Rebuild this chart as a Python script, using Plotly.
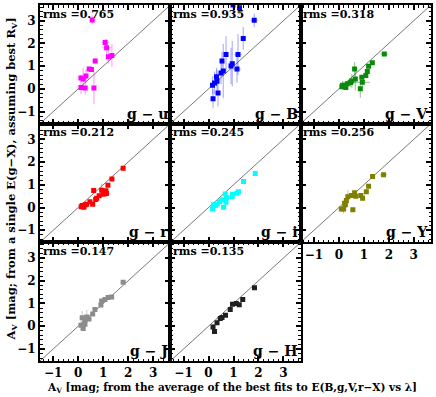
import plotly.graph_objects as go
from plotly.subplots import make_subplots

# ---------------- data ----------------
panel_names = ["g − u", "g − B", "g − V", "g − r", "g − i", "g − Y", "g − J", "g − H"]
rms_values = ["0.765", "0.935", "0.318", "0.212", "0.245", "0.256", "0.147", "0.135"]
colors = ["#ff00ff", "#0000ff", "#0a8a0a", "#ff0000", "#00ffff", "#808000", "#8c8c8c", "#202020"]
err_colors = ["rgba(255,0,255,0.35)", "rgba(0,0,255,0.3)", "rgba(10,138,10,0.4)", "rgba(255,0,0,0.3)",
              "rgba(0,255,255,0.35)", "rgba(128,128,0,0.35)", "rgba(140,140,140,0.4)", "rgba(32,32,32,0.45)"]

gu_x = [0.56, 1.08, 1.14, 1.21, 1.35, 0.68, 0.44, 0.53, 0.11, 0.20, 0.31, 0.11, 0.28, 0.63]
gu_y = [3.03, 2.04, 1.81, 1.41, 1.47, 1.23, 0.87, 0.85, 0.48, 0.44, 0.57, 0.06, 0.04, 0.04]
gu_ex = [0.05, 0.15, 0.2, 0.1, 0.15, 0.05, 0.08, 0.08, 0.05, 0.05, 0.05, 0.05, 0.05, 0.05]
gu_ey = [0.2, 0.15, 0.4, 0.3, 0.5, 0.1, 0.1, 0.1, 0.15, 0.5, 0.3, 0.3, 0.3, 0.7]

gB_x = [0.98, 1.24, 1.83, 1.39, 1.18, 0.70, 0.54, 0.95, 0.90, 1.14, 0.59, 0.50, 0.32, 0.34, 0.24, 0.16, 0.38, 0.18]
gB_y = [3.69, 3.57, 3.02, 2.22, 1.51, 1.51, 1.23, 1.11, 1.01, 0.87, 0.79, 0.70, 0.53, 0.34, 0.26, 0.16, -0.18, -0.43]
gB_ex = [0.05, 0.08, 0.15, 0.1, 0.15, 0.05, 0.05, 0.1, 0.05, 0.15, 0.05, 0.05, 0.05, 0.05, 0.05, 0.05, 0.05, 0.05]
gB_ey = [0.5, 0.3, 0.3, 0.5, 0.9, 0.8, 0.4, 1.0, 0.8, 0.6, 1.2, 0.5, 0.4, 0.5, 0.5, 0.4, 0.6, 0.4]

gV_x = [1.82, 1.34, 1.19, 1.14, 1.08, 0.63, 0.92, 0.94, 0.86, 0.66, 0.52, 0.47, 0.34, 0.26, 0.15, 0.12, 0.28]
gV_y = [1.53, 1.15, 1.00, 0.76, 0.59, 0.88, 0.51, 0.29, 0.01, 0.43, 0.35, 0.28, 0.23, 0.16, 0.16, 0.09, 0.06]
gV_ex = [0.15, 0.05, 0.05, 0.05, 0.08, 0.05, 0.1, 0.3, 0.05, 0.1, 0.05, 0.1, 0.05, 0.05, 0.05, 0.05, 0.05]
gV_ey = [0.05, 0.05, 0.05, 0.1, 0.1, 0.3, 0.1, 0.2, 0.4, 0.5, 0.3, 0.2, 0.1, 0.1, 0.2, 0.1, 0.1]

gr_x = [1.80, 1.35, 1.19, 0.62, 0.94, 1.11, 1.13, 1.00, 0.84, 0.70, 0.74, 0.47, 0.58, 0.28, 0.16, 0.12, 0.23, 0.34]
gr_y = [1.73, 1.26, 0.98, 0.75, 0.76, 0.74, 0.62, 0.59, 0.52, 0.35, 0.41, 0.26, 0.15, 0.12, 0.09, 0.03, 0.01, 0.15]
gr_ex = [0.1, 0.05, 0.05, 0.05, 0.1, 0.1, 0.15, 0.05, 0.05, 0.05, 0.05, 0.05, 0.05, 0.08, 0.08, 0.05, 0.05, 0.05]
gr_ey = [0.1, 0.05, 0.05, 0.05, 0.3, 0.1, 0.15, 0.1, 0.1, 0.05, 0.05, 0.05, 0.05, 0.1, 0.1, 0.1, 0.1, 0.05]

gi_x = [1.87, 1.40, 1.20, 1.14, 0.96, 0.94, 0.67, 0.72, 0.54, 0.70, 0.44, 0.35, 0.27, 0.60, 0.16, 0.20]
gi_y = [1.50, 1.15, 0.70, 0.63, 0.59, 0.48, 0.60, 0.44, 0.34, 0.23, 0.26, 0.16, 0.09, 0.01, -0.06, 0.12]
gi_ex = [0.05, 0.05, 0.1, 0.05, 0.1, 0.05, 0.05, 0.05, 0.05, 0.05, 0.1, 0.05, 0.05, 0.05, 0.05, 0.15]
gi_ey = [0.05, 0.05, 0.05, 0.05, 0.05, 0.05, 0.05, 0.05, 0.05, 0.05, 0.05, 0.05, 0.05, 0.05, 0.05, 0.05]

gY_x = [1.79, 1.35, 1.19, 1.10, 0.88, 0.95, 0.63, 0.68, 0.50, 0.36, 0.30, 0.23, 0.56, 0.19, 0.10, 0.26]
gY_y = [1.44, 1.37, 0.94, 0.70, 0.53, 0.41, 0.65, 0.50, 0.53, 0.48, 0.31, 0.19, -0.10, -0.06, -0.06, 0.12]
gY_ex = [0.15, 0.05, 0.05, 0.1, 0.05, 0.1, 0.05, 0.05, 0.05, 0.05, 0.1, 0.05, 0.1, 0.1, 0.05, 0.05]
gY_ey = [0.05, 0.05, 0.05, 0.1, 0.05, 0.1, 0.05, 0.05, 0.05, 0.3, 0.3, 0.1, 0.1, 0.2, 0.1, 0.2]

gJ_x = [1.80, 1.34, 1.20, 1.07, 0.94, 0.91, 0.67, 0.58, 0.43, 0.34, 0.16, 0.27, 0.11, 0.27, 0.20]
gJ_y = [1.93, 1.29, 1.26, 1.18, 1.11, 0.93, 0.74, 0.54, 0.32, 0.41, 0.37, 0.26, 0.04, 0.09, -0.10]
gJ_ex = [0.1, 0.05, 0.05, 0.05, 0.05, 0.05, 0.05, 0.05, 0.1, 0.05, 0.1, 0.05, 0.05, 0.05, 0.05]
gJ_ey = [0.05, 0.05, 0.05, 0.05, 0.05, 0.05, 0.1, 0.05, 0.1, 0.3, 0.3, 0.1, 0.2, 0.1, 0.1]

gH_x = [1.84, 1.37, 1.23, 1.11, 0.96, 0.87, 0.68, 0.54, 0.47, 0.34, 0.18, 0.24]
gH_y = [1.69, 1.18, 0.94, 1.00, 0.97, 0.74, 0.48, 0.38, 0.34, 0.15, -0.03, -0.23]
gH_ex = [0.1, 0.1, 0.05, 0.05, 0.05, 0.05, 0.05, 0.05, 0.05, 0.05, 0.05, 0.1]
gH_ey = [0.05, 0.05, 0.05, 0.05, 0.05, 0.1, 0.05, 0.05, 0.05, 0.05, 0.1, 0.05]

diag = [-2.0, 4.0]
tick_vals = [-1, 0, 1, 2, 3]
tick_text = ["−1", "0", "1", "2", "3"]
axis_range = [-1.53, 3.69]

panels = [
    (gu_x, gu_y, gu_ex, gu_ey), (gB_x, gB_y, gB_ex, gB_ey), (gV_x, gV_y, gV_ex, gV_ey),
    (gr_x, gr_y, gr_ex, gr_ey), (gi_x, gi_y, gi_ex, gi_ey), (gY_x, gY_y, gY_ex, gY_ey),
    (gJ_x, gJ_y, gJ_ex, gJ_ey), (gH_x, gH_y, gH_ex, gH_ey),
]

FONT = "DejaVu Serif"

fig = make_subplots(rows=3, cols=3, horizontal_spacing=0, vertical_spacing=0)

for i, (px, py, ex, ey) in enumerate(panels):
    r, c = i // 3 + 1, i % 3 + 1
    fig.add_trace(go.Scatter(x=diag, y=diag, mode="lines",
                             line=dict(color="#555555", width=0.8), hoverinfo="skip"), row=r, col=c)
    fig.add_trace(go.Scatter(
        x=px, y=py, mode="markers",
        marker=dict(symbol="square", size=5, color=colors[i]),
        error_x=dict(type="data", array=ex, color=err_colors[i], thickness=1.2, width=0),
        error_y=dict(type="data", array=ey, color=err_colors[i], thickness=1.2, width=0),
    ), row=r, col=c)

for k in range(1, 10):
    r, c = (k - 1) // 3 + 1, (k - 1) % 3 + 1
    xa = "xaxis" if k == 1 else f"xaxis{k}"
    ya = "yaxis" if k == 1 else f"yaxis{k}"
    if k == 9:
        fig.layout[xa].update(visible=False)
        fig.layout[ya].update(visible=False)
        continue
    show_x = (r == 3) or (r == 2 and c == 3)
    show_y = (c == 1)
    common = dict(range=axis_range, showgrid=False, zeroline=False, showline=True, mirror="allticks",
                  linecolor="black", linewidth=2, ticks="inside", ticklen=5, tickwidth=1.5,
                  tickcolor="black", tickvals=tick_vals, ticktext=tick_text,
                  minor=dict(dtick=0.2, ticks="inside", ticklen=2.5, tickwidth=1, tickcolor="black"),
                  tickfont=dict(family=FONT, size=12, color="black", weight="bold"))
    fig.layout[xa].update(showticklabels=show_x, **common)
    fig.layout[ya].update(showticklabels=show_y, **common)

annotations = []
for i in range(8):
    k = i + 1
    xr = "x" if k == 1 else f"x{k}"
    yr = "y" if k == 1 else f"y{k}"
    annotations.append(dict(x=0.005, y=0.995, xref=f"{xr} domain", yref=f"{yr} domain",
                            text="rms =" + rms_values[i], showarrow=False, xanchor="left", yanchor="top",
                            font=dict(family=FONT, size=11, color="black", weight="bold")))
    annotations.append(dict(x=0.995, y=0.0, xref=f"{xr} domain", yref=f"{yr} domain",
                            text=panel_names[i], showarrow=False, xanchor="right", yanchor="bottom",
                            font=dict(family=FONT, size=14, color="black", weight="bold")))

annotations.append(dict(x=0.49, y=-0.05, xref="paper", yref="paper", yanchor="top",
                        text="A<sub>V</sub> [mag; from the average of the best fits to E(B,g,V,r−X) vs λ]",
                        showarrow=False, font=dict(family=FONT, size=10.5, color="black", weight="bold")))
annotations.append(dict(x=-0.074, y=0.51, xref="paper", yref="paper", xanchor="center", textangle=-90,
                        text="A<sub>V</sub> [mag; from a single E(g−X), assuming best R<sub>V</sub>]",
                        showarrow=False, font=dict(family=FONT, size=11.5, color="black", weight="bold")))

fig.update_layout(width=436, height=397, margin=dict(l=40, r=4, t=3, b=36),
                  paper_bgcolor="white", plot_bgcolor="white", showlegend=False,
                  annotations=annotations)

fig.write_html("out.html", config={"displayModeBar": False},
               post_script="document.body.style.margin='0';document.body.style.overflow='hidden';")
